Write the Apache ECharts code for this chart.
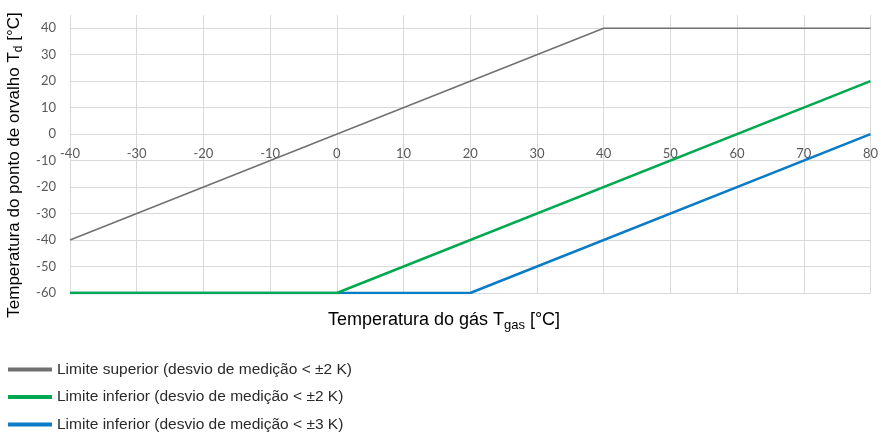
<!DOCTYPE html>
<html>
<head>
<meta charset="utf-8">
<script src="https://cdn.jsdelivr.net/npm/echarts@6/dist/echarts.min.js"></script>
<style>
html,body{margin:0;padding:0;background:#fff;}
#chart{width:881px;height:432px;}
</style>
</head>
<body>
<div id="chart"></div>
<script>
// ---- data ----
const seriesNames = [
  'Limite superior (desvio de medição < ±2 K)',
  'Limite inferior (desvio de medição < ±2 K)',
  'Limite inferior (desvio de medição < ±3 K)'
];
const xUpper = [-40, 40, 80];
const yUpper = [-40, 40, 40];
const xLower2 = [-40, 0, 80];
const yLower2 = [-60, -60, 20];
const xLower3 = [-40, 20, 80];
const yLower3 = [-60, -60, 0];
const xAxisMin = -40, xAxisMax = 80, xAxisStep = 10;
const yAxisMin = -60, yAxisMax = 45, yAxisStep = 10;
const xTitle = ['Temperatura do gás T', 'gas', ' [°C]'];
const yTitle = ['Temperatura do ponto de orvalho T', 'd', ' [°C]'];

function pairs(xs, ys) { return xs.map((x, i) => [x, ys[i]]); }

const chart = echarts.init(document.getElementById('chart'), null, {renderer: 'canvas'});
const gridColor = '#d9d9d9';
const labelColor = '#595959';
const colors = ['#707070', '#00a94f', '#0a7bc6'];

chart.setOption({
  animation: false,
  grid: {left: 70, right: 6, top: 15, bottom: 139, containLabel: false},
  legend: {
    orient: 'vertical', left: 8, top: 361.5, width: 500, height: 100, itemGap: 11.5, padding: 0,
    itemWidth: 44, itemHeight: 4, icon: 'rect',
    textStyle: {fontFamily: 'Liberation Sans', fontSize: 15.5, color: '#2a2a2a'},
    data: seriesNames
  },
  xAxis: {
    type: 'value', min: xAxisMin, max: xAxisMax, interval: xAxisStep,
    axisLine: {show: false, onZero: false},
    axisTick: {show: false},
    axisLabel: {color: labelColor, fontFamily: 'Lato', fontSize: 13, margin: 13},
    splitLine: {show: true, lineStyle: {color: gridColor, width: 1}}
  },
  yAxis: {
    type: 'value', min: yAxisMin, max: yAxisMax, interval: yAxisStep,
    axisLine: {show: false, onZero: false},
    axisTick: {show: false},
    axisLabel: {color: labelColor, fontFamily: 'Lato', fontSize: 13, margin: 14,
      formatter: v => (v > 40 ? '' : String(v))},
    splitLine: {show: true, showMaxLine: false, lineStyle: {color: gridColor, width: 1}}
  },
  series: [
    {name: seriesNames[0], type: 'line', symbol: 'none', data: pairs(xUpper, yUpper),
     color: colors[0], lineStyle: {width: 1.5, color: colors[0]}, z: 3},
    {name: seriesNames[1], type: 'line', symbol: 'none', data: pairs(xLower2, yLower2),
     color: colors[1], lineStyle: {width: 2.5, color: colors[1]}, z: 4},
    {name: seriesNames[2], type: 'line', symbol: 'none', data: pairs(xLower3, yLower3),
     color: colors[2], lineStyle: {width: 2.5, color: colors[2]}, z: 2}
  ],
  graphic: [
    {
      type: 'text', x: 444, y: 320,
      style: {
        text: '{m|' + xTitle[0] + '}{s|' + xTitle[1] + '}{m|' + xTitle[2] + '}',
        align: 'center', verticalAlign: 'middle',
        rich: {
          m: {fontFamily: 'Liberation Sans', fontSize: 18, color: '#222', lineHeight: 24, verticalAlign: 'middle'},
          s: {fontFamily: 'Liberation Sans', fontSize: 13, color: '#222', lineHeight: 24, verticalAlign: 'bottom'}
        }
      }
    },
    {
      type: 'text', x: 14, y: 165, rotation: Math.PI / 2,
      style: {
        text: '{m|' + yTitle[0] + '}{s|' + yTitle[1] + '}{m|' + yTitle[2] + '}',
        align: 'center', verticalAlign: 'middle',
        rich: {
          m: {fontFamily: 'Liberation Sans', fontSize: 17, color: '#222', lineHeight: 22, verticalAlign: 'middle'},
          s: {fontFamily: 'Liberation Sans', fontSize: 12, color: '#222', lineHeight: 22, verticalAlign: 'bottom'}
        }
      }
    }
  ]
});

// place the x-axis labels along the y = 0 line (axis crosses at zero)
const yZeroPx = chart.convertToPixel({yAxisIndex: 0}, 0);
const yMinPx = chart.convertToPixel({yAxisIndex: 0}, yAxisMin);
chart.setOption({xAxis: {offset: yZeroPx - yMinPx}});
</script>
</body>
</html>
